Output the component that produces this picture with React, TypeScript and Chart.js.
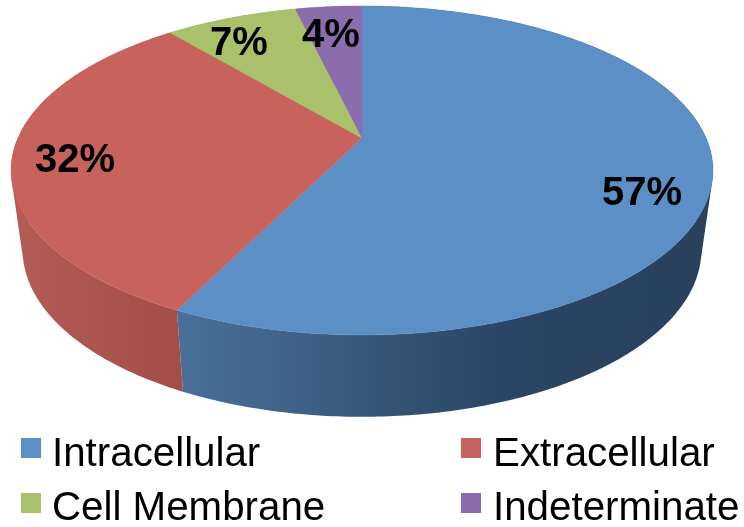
import React, { useEffect, useRef } from "react";
import { Chart, registerables } from "chart.js";

Chart.register(...registerables);

const categories = ["Intracellular", "Extracellular", "Cell Membrane", "Indeterminate"];
const shares = [57.3, 31.6, 7.4, 3.7];
const topColors = ["#5b8fc6", "#c8625c", "#a9c16a", "#8b6cad"];

// Appearance of the tilted disc (a perspective view of the pie)
const VIEW = { cx: 362, apexY: 138, a: -130.8, c: 0.1976, d: 344, dx: 0.967, drop: 79.5, dropGrow: 0.014 };
const LABEL_ANCHORS = [[642, 194], [75, 161], [239, 44], [331, 36]];
const LEGEND_SLOTS = [[21, 438, 52, 466], [461, 438, 493, 466], [21, 493, 52, 520], [461, 493, 493, 520]];
const SIDE_STOPS: Record<number, [number, string][]> = {
  0: [[177, "#4a7099"], [300, "#3f6186"], [400, "#345373"], [500, "#2a4565"], [714, "#29415d"]],
  1: [[8, "#b55d57"], [177, "#a34e48"]],
  2: [[150, "#8a9e56"], [300, "#8a9e56"]],
  3: [[290, "#705789"], [362, "#705789"]],
};

const project = (angle: number) => {
  const theta = angle + Math.PI / 2;
  const u = Math.sin(theta);
  const v = Math.cos(theta);
  const w = 1 + VIEW.c * v;
  return { x: VIEW.cx + (VIEW.d * u) / w, y: (VIEW.a * v + VIEW.apexY) / w };
};
const lower = (p: { x: number; y: number }) => ({
  x: VIEW.cx + (p.x - VIEW.cx) * VIEW.dx,
  y: p.y + VIEW.drop + (p.y - 170) * VIEW.dropGrow,
});
const sample = (start: number, end: number) => {
  const n = Math.max(2, Math.ceil((end - start) * 80));
  const pts = [];
  for (let i = 0; i <= n; i++) pts.push(project(start + ((end - start) * i) / n));
  return pts;
};

const pie3d = {
  id: "pie3d",
  beforeDatasetsDraw(chart: any) {
    const ctx = chart.ctx as CanvasRenderingContext2D;
    const arcs = chart.getDatasetMeta(0).data;
    ctx.save();
    // walls first: the quads along the rim share one path, so no seams show
    arcs.forEach((arc: any, i: number) => {
      const top = sample(arc.startAngle, arc.endAngle);
      const stops = SIDE_STOPS[i];
      const x0 = stops[0][0];
      const x1 = stops[stops.length - 1][0];
      const g = ctx.createLinearGradient(x0, 0, x1, 0);
      stops.forEach(([x, col]) => g.addColorStop((x - x0) / (x1 - x0), col));
      ctx.fillStyle = g;
      ctx.beginPath();
      for (let k = 0; k < top.length - 1; k++) {
        const a = top[k];
        const b = top[k + 1];
        const c = lower(b);
        const d = lower(a);
        // keep every quad wound the same way so that nonzero fill never leaves holes
        const area = (b.x - a.x) * (c.y - a.y) - (b.y - a.y) * (c.x - a.x);
        const quad = area >= 0 ? [a, b, c, d] : [d, c, b, a];
        ctx.moveTo(quad[0].x, quad[0].y);
        ctx.lineTo(quad[1].x, quad[1].y);
        ctx.lineTo(quad[2].x, quad[2].y);
        ctx.lineTo(quad[3].x, quad[3].y);
        ctx.closePath();
      }
      ctx.fill();
    });
    // top face
    arcs.forEach((arc: any, i: number) => {
      const col = chart.data.datasets[0].backgroundColor[i];
      ctx.beginPath();
      ctx.moveTo(VIEW.cx, VIEW.apexY);
      sample(arc.startAngle, arc.endAngle).forEach((p) => ctx.lineTo(p.x, p.y));
      ctx.closePath();
      ctx.fillStyle = col;
      ctx.strokeStyle = col;
      ctx.lineWidth = 0.5;
      ctx.fill();
      ctx.stroke();
    });
    // value labels
    ctx.fillStyle = "#000";
    ctx.font = 'bold 40px "Liberation Sans", Arial, sans-serif';
    ctx.textAlign = "center";
    ctx.textBaseline = "middle";
    chart.data.datasets[0].data.forEach((v: number, i: number) => {
      ctx.fillText(`${Math.round(v)}%`, LABEL_ANCHORS[i][0], LABEL_ANCHORS[i][1]);
    });
    // legend
    ctx.textAlign = "left";
    ctx.textBaseline = "alphabetic";
    ctx.font = '40.3px "Liberation Sans", Arial, sans-serif';
    chart.data.labels.forEach((label: string, i: number) => {
      const [bx, by, tx, ty] = LEGEND_SLOTS[i];
      ctx.fillStyle = chart.data.datasets[0].backgroundColor[i];
      ctx.fillRect(bx, by, 20, 20);
      ctx.fillStyle = "#000";
      ctx.fillText(label, tx, ty);
    });
    ctx.restore();
    return false;
  },
};

export default function App() {
  const ref = useRef<HTMLCanvasElement>(null);
  useEffect(() => {
    const chart = new Chart(ref.current!, {
      type: "pie",
      data: {
        labels: categories,
        datasets: [{ data: shares, backgroundColor: topColors, borderWidth: 0 }],
      },
      options: {
        responsive: false,
        animation: false,
        plugins: { legend: { display: false }, tooltip: { enabled: false } },
      },
      plugins: [pie3d],
    } as any);
    return () => chart.destroy();
  }, []);
  return (
    <div style={{ position: "fixed", left: 0, top: 0, width: 744, height: 527, background: "#fff" }}>
      <canvas ref={ref} width={744} height={527} style={{ display: "block" }} />
    </div>
  );
}
